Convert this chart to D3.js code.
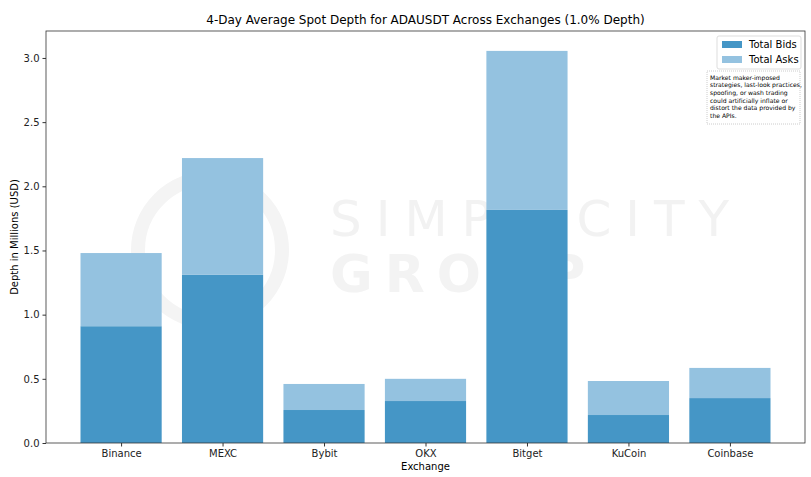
<!DOCTYPE html><html><head><script src="https://cdn.jsdelivr.net/npm/d3@7"></script>
<style>body{margin:0;background:#fff}text{font-family:"DejaVu Sans",sans-serif}</style></head><body><svg id="c" width="811" height="477"></svg>
<script>
const categories=["Binance","MEXC","Bybit","OKX","Bitget","KuCoin","Coinbase"];
const bids=[0.91,1.31,0.257,0.327,1.816,0.218,0.35];
const asks=[0.57,0.91,0.203,0.173,1.239,0.265,0.235];
const yTicks=[0,0.5,1.0,1.5,2.0,2.5,3.0];
const svg=d3.select("#c");
const L=46,R=805,T=31,B=443;
const x=d3.scaleLinear().domain([-0.74,6.74]).range([L,R]);
const y=d3.scaleLinear().domain([0,3.21]).range([B,T]);
// watermark
svg.append("text").attr("x",330).attr("y",236).attr("font-size",50).attr("fill","#f2f2f2").attr("letter-spacing",14).text("SIMPLICITY");
svg.append("text").attr("x",330).attr("y",292).attr("font-size",52).attr("font-weight","bold").attr("fill","#f3f3f3").attr("letter-spacing",12).text("GROUP");
svg.append("circle").attr("cx",210).attr("cy",250).attr("r",72).attr("fill","none").attr("stroke","#f4f4f4").attr("stroke-width",14);
const g=svg.append("g");
categories.forEach((c,i)=>{
 g.append("rect").attr("x",x(i-0.4)).attr("width",x(0.8)-x(0)).attr("y",y(bids[i])).attr("height",y(0)-y(bids[i])).attr("fill","#4596c6");
 g.append("rect").attr("x",x(i-0.4)).attr("width",x(0.8)-x(0)).attr("y",y(bids[i]+asks[i])).attr("height",y(bids[i])-y(bids[i]+asks[i])).attr("fill","#94c2e0");
});
svg.append("rect").attr("x",L).attr("y",T).attr("width",R-L).attr("height",B-T).attr("fill","none").attr("stroke","#333").attr("stroke-width",0.8);
const ya=svg.append("g").attr("transform",`translate(${L},0)`).call(d3.axisLeft(y).tickValues(yTicks).tickFormat(d3.format(".1f")).tickSize(3.5));
const xa=svg.append("g").attr("transform",`translate(0,${B})`).call(d3.axisBottom(x).tickValues(d3.range(7)).tickFormat(i=>categories[i]).tickSize(3.5));
[ya,xa].forEach(a=>{a.select(".domain").remove();a.selectAll("text").attr("font-size",10).attr("fill","#222");a.selectAll("line").attr("stroke","#333");});
svg.append("text").attr("x",(L+R)/2).attr("y",24).attr("text-anchor","middle").attr("font-size",12).text("4-Day Average Spot Depth for ADAUSDT Across Exchanges (1.0% Depth)");
svg.append("text").attr("x",(L+R)/2).attr("y",470).attr("text-anchor","middle").attr("font-size",10).text("Exchange");
svg.append("text").attr("transform",`translate(18,${(T+B)/2}) rotate(-90)`).attr("text-anchor","middle").attr("font-size",10).text("Depth in Millions (USD)");
// legend
const lg=svg.append("g");
lg.append("rect").attr("x",717).attr("y",36).attr("width",84).attr("height",33).attr("fill","#fff").attr("stroke","#ddd").attr("rx",2);
[["Total Bids","#4596c6"],["Total Asks","#94c2e0"]].forEach((d,i)=>{
 lg.append("rect").attr("x",722).attr("y",41+i*15).attr("width",20).attr("height",7).attr("fill",d[1]);
 lg.append("text").attr("x",749).attr("y",48+i*15).attr("font-size",10).text(d[0]);
});
svg.append("rect").attr("x",707).attr("y",71).attr("width",93).attr("height",53).attr("fill","#fff").attr("stroke","#ccc").attr("stroke-dasharray","1,1");
const note=["Market maker-imposed","strategies, last-look practices,","spoofing, or wash trading","could artificially inflate or","distort the data provided by","the APIs."];
note.forEach((t,i)=>svg.append("text").attr("x",710).attr("y",79.5+i*7.7).attr("font-size",6.1).attr("font-family","Lato").text(t));
</script></body></html>
